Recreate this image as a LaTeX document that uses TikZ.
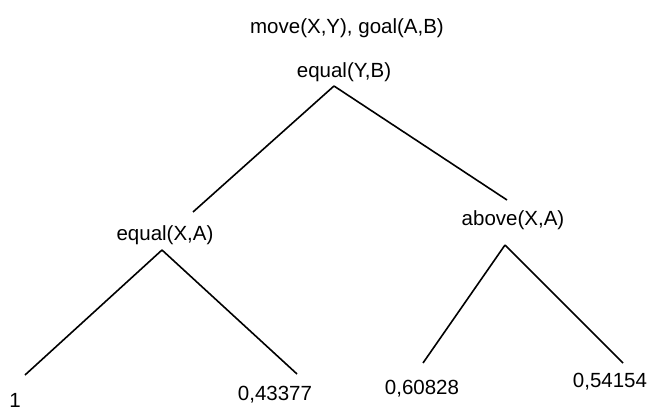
\documentclass[tikz,border=0pt]{standalone}
\usepackage{fontspec}
\setmainfont{Liberation Sans}
\usepackage{tikz}

\begin{document}
\begin{tikzpicture}[
    x=1pt, y=-1pt,
    lbl/.style={inner sep=0pt, font=\fontsize{20.5}{24}\selectfont},
    edge/.style={line width=1.6pt}
  ]
    \useasboundingbox (0,0) rectangle (651,412);
    % root test
    \node[lbl] (head) at (347,28) {move(X,Y), goal(A,B)};
    \node[lbl] (eqyb) at (344,72) {equal(Y,B)};
    \coordinate (eqybtop) at (334,86);
    % inner tests
    \coordinate (eqxaend) at (193,212);
    \node[lbl] (eqxa) at (165,235) {equal(X,A)};
    \coordinate (eqxatop) at (162,250);
    \coordinate (abxaend) at (507,200);
    \node[lbl] (abxa) at (513,220) {above(X,A)};
    \coordinate (abxatop) at (505,245);
    % leaves
    \coordinate (leafaend) at (25,375);
    \node[lbl] (leafa) at (15,400) {1};
    \coordinate (leafbend) at (297,374);
    \node[lbl] (leafb) at (275,395) {0,43377};
    \coordinate (leafcend) at (423,363);
    \node[lbl] (leafc) at (422,389) {0,60828};
    \coordinate (leafdend) at (623,363);
    \node[lbl] (leafd) at (610,382) {0,54154};
    \draw[edge] (eqybtop) -- (eqxaend);
    \draw[edge] (eqybtop) -- (abxaend);
    \draw[edge] (eqxatop) -- (leafaend);
    \draw[edge] (eqxatop) -- (leafbend);
    \draw[edge] (abxatop) -- (leafcend);
    \draw[edge] (abxatop) -- (leafdend);
  \end{tikzpicture}
\end{document}
